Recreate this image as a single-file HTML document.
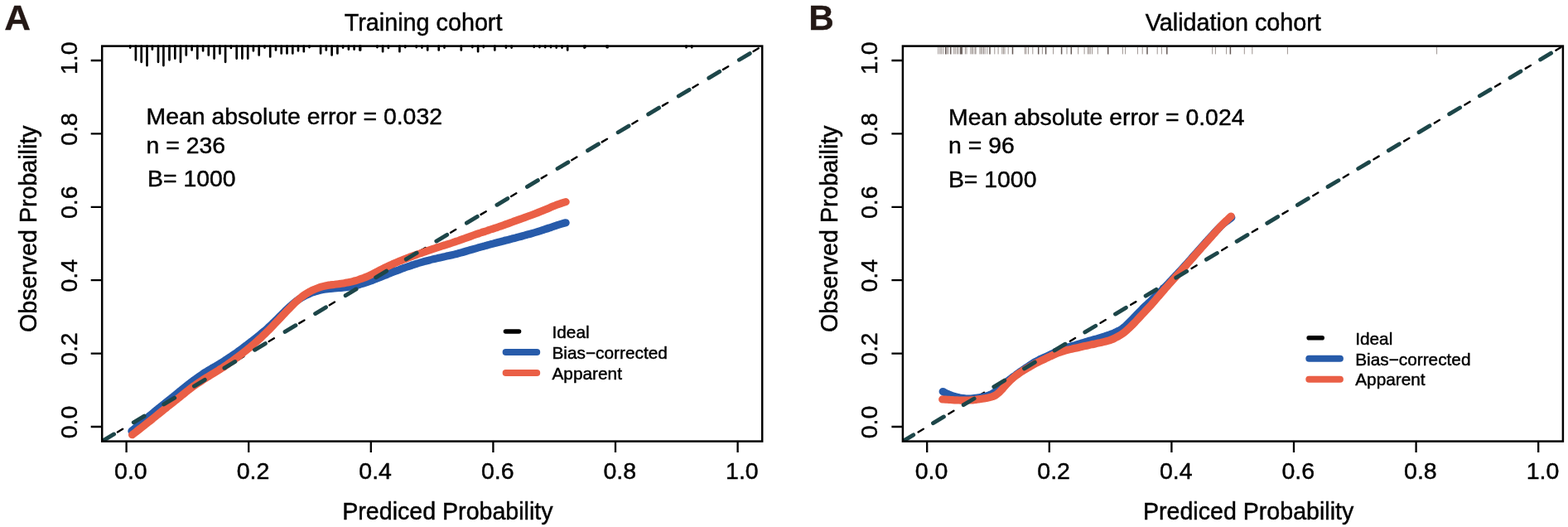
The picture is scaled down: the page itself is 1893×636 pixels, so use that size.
<!DOCTYPE html><html><head><meta charset="utf-8"><title>Calibration curves</title><style>html,body{margin:0;padding:0;background:#fff;overflow:hidden}svg{display:block}text{font-family:"Liberation Sans", Arial, sans-serif;fill:#000;stroke:#000;stroke-width:0.45px}</style></head><body>
<svg width="1893" height="636" viewBox="0 0 1893 636">
<rect width="1893" height="636" fill="#fff"/>
<g>
<clipPath id="cA"><rect x="123.2" y="55.6" width="797.0" height="477.0"/></clipPath>
<line x1="123.2" y1="532.6" x2="920.2" y2="55.6" stroke="#000" stroke-width="2.4" stroke-linecap="round" stroke-dasharray="7.2 35.40" stroke-dashoffset="-21.8" clip-path="url(#cA)"/>
<path d="M158.9,520.3 C159.7,519.6 162.2,517.4 163.9,516.0 C165.6,514.6 167.2,513.1 168.9,511.7 C170.5,510.3 172.2,508.8 173.9,507.4 C175.5,506.0 177.2,504.6 178.9,503.2 C180.5,501.8 182.2,500.4 183.9,499.1 C185.5,497.7 187.2,496.3 188.9,495.0 C190.5,493.6 192.2,492.3 193.8,491.0 C195.5,489.7 197.2,488.3 198.8,487.0 C200.5,485.7 202.2,484.4 203.8,483.0 C205.5,481.7 207.2,480.3 208.8,479.0 C210.5,477.6 212.2,476.3 213.8,474.9 C215.5,473.6 217.1,472.2 218.8,470.9 C220.5,469.5 222.1,468.2 223.8,466.8 C225.5,465.5 227.1,464.2 228.8,462.9 C230.5,461.6 232.1,460.3 233.8,459.1 C235.4,457.8 237.1,456.6 238.8,455.4 C240.4,454.2 242.1,453.1 243.8,452.0 C245.4,450.9 247.1,449.8 248.8,448.8 C250.4,447.8 252.1,446.8 253.8,445.8 C255.4,444.8 257.1,443.8 258.7,442.8 C260.4,441.8 262.1,440.9 263.7,439.9 C265.4,438.8 267.1,437.8 268.7,436.8 C270.4,435.7 272.1,434.7 273.7,433.6 C275.4,432.5 277.1,431.4 278.7,430.3 C280.4,429.2 282.0,428.0 283.7,426.9 C285.4,425.7 287.0,424.5 288.7,423.3 C290.4,422.1 292.0,420.9 293.7,419.6 C295.4,418.4 297.0,417.1 298.7,415.8 C300.4,414.6 302.0,413.3 303.7,412.0 C305.3,410.7 307.0,409.4 308.7,408.1 C310.3,406.7 312.0,405.4 313.7,404.1 C315.3,402.7 317.0,401.3 318.7,399.9 C320.3,398.5 322.0,397.0 323.6,395.5 C325.3,394.0 327.0,392.5 328.6,390.9 C330.3,389.3 332.0,387.7 333.6,386.0 C335.3,384.4 337.0,382.7 338.6,381.0 C340.3,379.3 342.0,377.6 343.6,376.0 C345.3,374.4 346.9,372.7 348.6,371.2 C350.3,369.6 351.9,368.1 353.6,366.7 C355.3,365.3 356.9,364.0 358.6,362.8 C360.3,361.5 361.9,360.5 363.6,359.5 C365.3,358.4 366.9,357.6 368.6,356.7 C370.2,355.9 371.9,355.1 373.6,354.4 C375.2,353.7 376.9,353.1 378.6,352.5 C380.2,352.0 381.9,351.5 383.6,351.0 C385.2,350.6 386.9,350.2 388.5,349.8 C390.2,349.5 391.9,349.2 393.5,349.0 C395.2,348.7 396.9,348.5 398.5,348.4 C400.2,348.2 401.9,348.0 403.5,347.9 C405.2,347.8 406.9,347.7 408.5,347.5 C410.2,347.4 411.8,347.3 413.5,347.1 C415.2,347.0 416.8,346.8 418.5,346.6 C420.2,346.4 421.8,346.1 423.5,345.9 C425.2,345.6 426.8,345.2 428.5,344.9 C430.2,344.5 431.8,344.1 433.5,343.6 C435.1,343.2 436.8,342.7 438.5,342.2 C440.1,341.7 441.8,341.1 443.5,340.5 C445.1,339.9 446.8,339.3 448.5,338.7 C450.1,338.0 451.8,337.4 453.5,336.7 C455.1,336.1 456.8,335.4 458.4,334.7 C460.1,334.0 461.8,333.4 463.4,332.7 C465.1,332.1 466.8,331.4 468.4,330.7 C470.1,330.1 471.8,329.4 473.4,328.8 C475.1,328.1 476.7,327.5 478.4,326.8 C480.1,326.2 481.7,325.6 483.4,324.9 C485.1,324.3 486.7,323.7 488.4,323.1 C490.1,322.6 491.7,322.0 493.4,321.4 C495.1,320.8 496.7,320.3 498.4,319.7 C500.0,319.2 501.7,318.7 503.4,318.1 C505.0,317.6 506.7,317.1 508.4,316.6 C510.0,316.2 511.7,315.7 513.4,315.2 C515.0,314.8 516.7,314.4 518.4,314.0 C520.0,313.5 521.7,313.1 523.3,312.7 C525.0,312.3 526.7,312.0 528.3,311.6 C530.0,311.2 531.7,310.8 533.3,310.5 C535.0,310.1 536.7,309.8 538.3,309.4 C540.0,309.0 541.6,308.7 543.3,308.3 C545.0,307.9 546.6,307.5 548.3,307.1 C550.0,306.7 551.6,306.3 553.3,305.8 C555.0,305.4 556.6,304.9 558.3,304.5 C560.0,304.0 561.6,303.5 563.3,303.0 C564.9,302.5 566.6,302.0 568.3,301.5 C569.9,301.1 571.6,300.6 573.3,300.1 C574.9,299.6 576.6,299.2 578.3,298.7 C579.9,298.2 581.6,297.8 583.3,297.3 C584.9,296.9 586.6,296.4 588.2,296.0 C589.9,295.5 591.6,295.1 593.2,294.6 C594.9,294.2 596.6,293.7 598.2,293.3 C599.9,292.9 601.6,292.4 603.2,292.0 C604.9,291.6 606.6,291.1 608.2,290.7 C609.9,290.3 611.5,289.8 613.2,289.4 C614.9,289.0 616.5,288.6 618.2,288.1 C619.9,287.7 621.5,287.3 623.2,286.8 C624.9,286.4 626.5,285.9 628.2,285.5 C629.8,285.0 631.5,284.6 633.2,284.1 C634.8,283.7 636.5,283.2 638.2,282.7 C639.8,282.3 641.5,281.8 643.2,281.3 C644.8,280.8 646.5,280.3 648.2,279.8 C649.8,279.3 651.5,278.8 653.1,278.3 C654.8,277.8 656.5,277.2 658.1,276.7 C659.8,276.1 661.5,275.5 663.1,275.0 C664.8,274.4 666.5,273.9 668.1,273.3 C669.8,272.8 671.5,272.2 673.1,271.7 C674.8,271.2 676.4,270.7 678.1,270.2 C679.8,269.7 682.3,269.0 683.1,268.8" fill="none" stroke="#275baa" stroke-width="9.2" stroke-linecap="round" stroke-linejoin="round"/>
<path d="M159.6,524.7 C160.4,524.1 162.9,522.1 164.6,520.9 C166.2,519.6 167.9,518.3 169.6,517.0 C171.2,515.7 172.9,514.4 174.6,513.1 C176.2,511.8 177.9,510.5 179.5,509.2 C181.2,507.9 182.9,506.5 184.5,505.2 C186.2,503.8 187.9,502.5 189.5,501.1 C191.2,499.8 192.8,498.5 194.5,497.1 C196.2,495.8 197.8,494.5 199.5,493.2 C201.1,491.9 202.8,490.5 204.5,489.2 C206.1,487.9 207.8,486.6 209.5,485.2 C211.1,483.9 212.8,482.6 214.4,481.2 C216.1,479.9 217.8,478.5 219.4,477.2 C221.1,475.9 222.8,474.5 224.4,473.2 C226.1,471.9 227.7,470.6 229.4,469.3 C231.1,468.1 232.7,466.8 234.4,465.6 C236.0,464.4 237.7,463.2 239.4,462.1 C241.0,461.0 242.7,459.9 244.4,458.8 C246.0,457.7 247.7,456.7 249.3,455.6 C251.0,454.6 252.7,453.6 254.3,452.6 C256.0,451.6 257.7,450.6 259.3,449.6 C261.0,448.6 262.6,447.6 264.3,446.5 C266.0,445.5 267.6,444.4 269.3,443.4 C270.9,442.3 272.6,441.1 274.3,440.0 C275.9,438.8 277.6,437.7 279.3,436.5 C280.9,435.3 282.6,434.1 284.2,432.8 C285.9,431.6 287.6,430.4 289.2,429.1 C290.9,427.8 292.6,426.5 294.2,425.2 C295.9,423.9 297.5,422.6 299.2,421.2 C300.9,419.9 302.5,418.5 304.2,417.1 C305.8,415.7 307.5,414.2 309.2,412.8 C310.8,411.3 312.5,409.8 314.2,408.3 C315.8,406.8 317.5,405.2 319.1,403.6 C320.8,402.0 322.5,400.4 324.1,398.7 C325.8,397.0 327.5,395.3 329.1,393.6 C330.8,391.8 332.4,390.1 334.1,388.3 C335.8,386.6 337.4,384.8 339.1,383.0 C340.7,381.3 342.4,379.5 344.1,377.8 C345.7,376.0 347.4,374.3 349.1,372.6 C350.7,370.8 352.4,369.1 354.0,367.5 C355.7,365.8 357.4,364.2 359.0,362.7 C360.7,361.3 362.4,359.8 364.0,358.5 C365.7,357.2 367.3,356.0 369.0,354.9 C370.7,353.8 372.3,352.8 374.0,351.9 C375.6,351.0 377.3,350.2 379.0,349.5 C380.6,348.7 382.3,348.1 384.0,347.5 C385.6,346.9 387.3,346.4 388.9,345.9 C390.6,345.5 392.3,345.1 393.9,344.7 C395.6,344.4 397.3,344.1 398.9,343.9 C400.6,343.6 402.2,343.4 403.9,343.3 C405.6,343.1 407.2,342.9 408.9,342.7 C410.5,342.5 412.2,342.3 413.9,342.0 C415.5,341.7 417.2,341.5 418.9,341.1 C420.5,340.8 422.2,340.5 423.8,340.1 C425.5,339.7 427.2,339.2 428.8,338.8 C430.5,338.3 432.2,337.8 433.8,337.2 C435.5,336.7 437.1,336.1 438.8,335.5 C440.5,334.9 442.1,334.2 443.8,333.5 C445.4,332.7 447.1,331.9 448.8,331.1 C450.4,330.3 452.1,329.5 453.8,328.6 C455.4,327.8 457.1,326.9 458.7,326.0 C460.4,325.2 462.1,324.3 463.7,323.5 C465.4,322.7 467.1,321.9 468.7,321.1 C470.4,320.3 472.0,319.6 473.7,318.8 C475.4,318.1 477.0,317.4 478.7,316.7 C480.3,316.0 482.0,315.3 483.7,314.7 C485.3,314.0 487.0,313.3 488.7,312.7 C490.3,312.0 492.0,311.4 493.6,310.8 C495.3,310.1 497.0,309.5 498.6,308.9 C500.3,308.3 502.0,307.7 503.6,307.1 C505.3,306.6 506.9,306.0 508.6,305.4 C510.3,304.8 511.9,304.2 513.6,303.6 C515.2,303.0 516.9,302.5 518.6,301.9 C520.2,301.3 521.9,300.7 523.6,300.1 C525.2,299.6 526.9,299.0 528.5,298.5 C530.2,298.0 531.9,297.4 533.5,296.9 C535.2,296.4 536.9,295.9 538.5,295.4 C540.2,294.8 541.8,294.3 543.5,293.8 C545.2,293.3 546.8,292.7 548.5,292.2 C550.1,291.6 551.8,291.1 553.5,290.5 C555.1,289.9 556.8,289.3 558.5,288.7 C560.1,288.1 561.8,287.5 563.4,286.9 C565.1,286.3 566.8,285.7 568.4,285.1 C570.1,284.5 571.8,283.9 573.4,283.3 C575.1,282.7 576.7,282.2 578.4,281.6 C580.1,281.0 581.7,280.5 583.4,279.9 C585.0,279.4 586.7,278.8 588.4,278.3 C590.0,277.8 591.7,277.2 593.4,276.7 C595.0,276.1 596.7,275.6 598.3,275.0 C600.0,274.4 601.7,273.9 603.3,273.3 C605.0,272.7 606.7,272.1 608.3,271.6 C610.0,271.0 611.6,270.4 613.3,269.8 C615.0,269.2 616.6,268.6 618.3,268.0 C619.9,267.4 621.6,266.8 623.3,266.2 C624.9,265.6 626.6,265.0 628.3,264.4 C629.9,263.8 631.6,263.2 633.2,262.6 C634.9,262.0 636.6,261.4 638.2,260.8 C639.9,260.2 641.6,259.6 643.2,259.0 C644.9,258.4 646.5,257.8 648.2,257.1 C649.9,256.5 651.5,255.8 653.2,255.1 C654.8,254.4 656.5,253.7 658.2,253.0 C659.8,252.3 661.5,251.6 663.2,250.9 C664.8,250.2 666.5,249.5 668.1,248.8 C669.8,248.1 671.5,247.5 673.1,246.8 C674.8,246.2 676.5,245.7 678.1,245.1 C679.8,244.6 682.3,243.8 683.1,243.6" fill="none" stroke="#ea5f46" stroke-width="9.2" stroke-linecap="round" stroke-linejoin="round"/>
<line x1="123.2" y1="532.6" x2="920.2" y2="55.6" stroke="#1d4649" stroke-width="4.9" stroke-linecap="round" stroke-dasharray="15 27.60" stroke-dashoffset="-1.8" clip-path="url(#cA)"/>
<path d="M157.2,55.6v2.0 M163.9,55.6v16.7 M170.7,55.6v19.2 M177.5,55.6v23.5 M183.9,55.6v4.0 M191.0,55.6v19.2 M197.4,55.6v23.5 M204.5,55.6v16.7 M211.3,55.6v15.0 M218.0,55.6v19.2 M224.8,55.6v10.8 M231.6,55.6v4.9 M238.3,55.6v15.0 M245.1,55.6v5.7 M251.8,55.6v10.8 M258.6,55.6v15.0 M265.4,55.6v9.1 M272.1,55.6v19.2 M278.9,55.6v2.3 M285.7,55.6v15.0 M292.4,55.6v15.0 M299.2,55.6v15.0 M305.9,55.6v5.7 M312.7,55.6v10.8 M319.5,55.6v2.0 M326.2,55.6v12.8 M333.0,55.6v4.9 M339.7,55.6v8.8 M346.5,55.6v8.8 M353.3,55.6v8.8 M360.0,55.6v5.7 M366.8,55.6v6.6 M373.5,55.6v1.5 M387.1,55.6v8.8 M393.8,55.6v4.9 M400.6,55.6v10.8 M407.4,55.6v8.8 M414.1,55.6v2.0 M420.9,55.6v4.0 M427.6,55.6v4.0 M434.4,55.6v4.9 M435.1,55.6v4.9 M455.4,55.6v1.5 M462.1,55.6v6.6 M468.9,55.6v2.3 M482.4,55.6v6.6 M489.2,55.6v1.5 M502.7,55.6v1.5 M509.4,55.6v2.0 M516.2,55.6v4.9 M529.7,55.6v4.9 M536.5,55.6v2.0 M556.8,55.6v4.9 M570.3,55.6v1.5 M577.1,55.6v6.6 M583.8,55.6v1.5 M597.3,55.6v4.9 M610.9,55.6v2.0 M617.6,55.6v2.0 M644.7,55.6v1.2 M651.4,55.6v1.5 M658.2,55.6v1.5 M665.0,55.6v1.5 M671.7,55.6v2.0 M678.5,55.6v2.0 M685.2,55.6v4.9 M705.5,55.6v2.0 M732.6,55.6v1.5 M706.3,55.6v1.6 M733.5,55.6v1.6 M828.5,55.6v1.6 M835.2,55.6v1.6" stroke="#000" stroke-width="2.7" fill="none" stroke-linecap="round"/>
<rect x="123.2" y="55.6" width="797.0" height="477.0" fill="none" stroke="#000" stroke-width="2.5"/>
<path d="M152.6,532.6V546.1 M123.2,515.0H109.7 M300.2,532.6V546.1 M123.2,426.6H109.7 M447.8,532.6V546.1 M123.2,338.2H109.7 M595.4,532.6V546.1 M123.2,249.8H109.7 M743.0,532.6V546.1 M123.2,161.4H109.7 M890.6,532.6V546.1 M123.2,73.0H109.7" stroke="#000" stroke-width="2.3" fill="none"/>
<text x="157.9" y="577.8" text-anchor="middle" font-size="28.5">0.0</text>
<text transform="translate(92.7,509.5) rotate(-90)" text-anchor="middle" font-size="28.5">0.0</text>
<text x="305.5" y="577.8" text-anchor="middle" font-size="28.5">0.2</text>
<text transform="translate(92.7,421.1) rotate(-90)" text-anchor="middle" font-size="28.5">0.2</text>
<text x="453.1" y="577.8" text-anchor="middle" font-size="28.5">0.4</text>
<text transform="translate(92.7,332.7) rotate(-90)" text-anchor="middle" font-size="28.5">0.4</text>
<text x="600.7" y="577.8" text-anchor="middle" font-size="28.5">0.6</text>
<text transform="translate(92.7,244.3) rotate(-90)" text-anchor="middle" font-size="28.5">0.6</text>
<text x="748.3" y="577.8" text-anchor="middle" font-size="28.5">0.8</text>
<text transform="translate(92.7,155.9) rotate(-90)" text-anchor="middle" font-size="28.5">0.8</text>
<text x="895.9" y="577.8" text-anchor="middle" font-size="28.5">1.0</text>
<text transform="translate(92.7,70.2) rotate(-90)" text-anchor="middle" font-size="28.5">1.0</text>
<text x="511.1" y="36.8" text-anchor="middle" font-size="28.75">Training cohort</text>
<text x="540.4" y="626.5" text-anchor="middle" font-size="28.6">Prediced Probability</text>
<text transform="translate(44.3,276.2) rotate(-90)" text-anchor="middle" font-size="28.6">Observed Probaility</text>
<text transform="translate(5.2,35.9) scale(1.04,1)" x="0" y="0" font-size="42.3" font-weight="bold" style="fill:#231815;stroke:#231815;stroke-width:0.3px">A</text>
<text x="176.5" y="150.4" font-size="28.4">Mean absolute error = 0.032</text>
<text x="176.5" y="184.5" font-size="28.4">n = 236</text>
<text x="178.1" y="225" font-size="28.4">B= 1000</text>
<line x1="610.5" y1="400.0" x2="626.5" y2="400.0" stroke="#000" stroke-width="5.6" stroke-linecap="round"/>
<line x1="610.6" y1="425.0" x2="648.2" y2="425.0" stroke="#275baa" stroke-width="8" stroke-linecap="round"/>
<line x1="610.6" y1="450.0" x2="648.2" y2="450.0" stroke="#ea5f46" stroke-width="8" stroke-linecap="round"/>
<text x="666.5" y="407.8" font-size="20.8">Ideal</text>
<text x="666.5" y="433.1" font-size="20.8">Bias−corrected</text>
<text x="666.5" y="457.6" font-size="20.8">Apparent</text>
</g>
<g>
<clipPath id="cB"><rect x="1089.9" y="55.6" width="797.0" height="477.0"/></clipPath>
<line x1="1089.9" y1="532.6" x2="1886.9" y2="55.6" stroke="#000" stroke-width="2.4" stroke-linecap="round" stroke-dasharray="7.2 35.52" stroke-dashoffset="-21.8" clip-path="url(#cB)"/>
<path d="M1138.2,472.6 C1138.9,472.9 1140.9,474.0 1142.2,474.6 C1143.5,475.2 1144.9,475.8 1146.2,476.4 C1147.5,476.9 1148.9,477.4 1150.2,477.8 C1151.6,478.3 1152.9,478.7 1154.2,479.0 C1155.6,479.4 1156.9,479.7 1158.2,479.9 C1159.6,480.2 1160.9,480.4 1162.2,480.6 C1163.6,480.8 1164.9,481.0 1166.2,481.1 C1167.6,481.2 1168.9,481.2 1170.3,481.1 C1171.6,481.1 1172.9,481.0 1174.3,480.8 C1175.6,480.7 1176.9,480.5 1178.3,480.3 C1179.6,480.2 1180.9,480.0 1182.3,479.7 C1183.6,479.5 1184.9,479.3 1186.3,479.0 C1187.6,478.7 1189.0,478.5 1190.3,478.1 C1191.6,477.7 1193.0,477.3 1194.3,476.8 C1195.6,476.2 1197.0,475.6 1198.3,474.8 C1199.6,474.0 1201.0,473.1 1202.3,472.1 C1203.6,471.0 1205.0,469.9 1206.3,468.7 C1207.7,467.6 1209.0,466.4 1210.3,465.2 C1211.7,464.1 1213.0,462.9 1214.3,461.8 C1215.7,460.7 1217.0,459.6 1218.3,458.5 C1219.7,457.5 1221.0,456.4 1222.3,455.4 C1223.7,454.4 1225.0,453.4 1226.4,452.5 C1227.7,451.5 1229.0,450.5 1230.4,449.6 C1231.7,448.7 1233.0,447.7 1234.4,446.8 C1235.7,445.9 1237.0,445.0 1238.4,444.0 C1239.7,443.1 1241.0,442.2 1242.4,441.4 C1243.7,440.5 1245.1,439.6 1246.4,438.7 C1247.7,437.9 1249.1,437.0 1250.4,436.3 C1251.7,435.6 1253.1,434.9 1254.4,434.2 C1255.7,433.6 1257.1,433.0 1258.4,432.4 C1259.7,431.8 1261.1,431.2 1262.4,430.6 C1263.7,430.0 1265.1,429.4 1266.4,428.7 C1267.8,428.1 1269.1,427.4 1270.4,426.7 C1271.8,426.1 1273.1,425.4 1274.4,424.8 C1275.8,424.2 1277.1,423.6 1278.4,423.0 C1279.8,422.5 1281.1,421.9 1282.4,421.4 C1283.8,420.9 1285.1,420.4 1286.5,419.9 C1287.8,419.5 1289.1,419.0 1290.5,418.6 C1291.8,418.2 1293.1,417.9 1294.5,417.5 C1295.8,417.1 1297.1,416.7 1298.5,416.4 C1299.8,416.0 1301.1,415.6 1302.5,415.2 C1303.8,414.8 1305.2,414.3 1306.5,413.9 C1307.8,413.5 1309.2,413.1 1310.5,412.7 C1311.8,412.3 1313.2,411.9 1314.5,411.5 C1315.8,411.1 1317.2,410.8 1318.5,410.4 C1319.8,410.0 1321.2,409.6 1322.5,409.3 C1323.9,408.9 1325.2,408.5 1326.5,408.1 C1327.9,407.7 1329.2,407.3 1330.5,406.9 C1331.9,406.5 1333.2,406.1 1334.5,405.7 C1335.9,405.2 1337.2,404.8 1338.5,404.3 C1339.9,403.9 1341.2,403.4 1342.6,402.8 C1343.9,402.3 1345.2,401.7 1346.6,401.1 C1347.9,400.5 1349.2,399.9 1350.6,399.2 C1351.9,398.5 1353.2,397.8 1354.6,396.9 C1355.9,395.9 1357.2,394.8 1358.6,393.7 C1359.9,392.5 1361.3,391.1 1362.6,389.8 C1363.9,388.5 1365.3,387.1 1366.6,385.8 C1367.9,384.4 1369.3,383.0 1370.6,381.6 C1371.9,380.2 1373.3,378.8 1374.6,377.5 C1375.9,376.1 1377.3,374.7 1378.6,373.4 C1379.9,372.0 1381.3,370.7 1382.6,369.5 C1384.0,368.2 1385.3,367.0 1386.6,365.7 C1388.0,364.5 1389.3,363.2 1390.6,361.9 C1392.0,360.7 1393.3,359.4 1394.6,358.1 C1396.0,356.8 1397.3,355.5 1398.6,354.2 C1400.0,352.9 1401.3,351.6 1402.7,350.2 C1404.0,348.9 1405.3,347.5 1406.7,346.1 C1408.0,344.7 1409.3,343.3 1410.7,341.9 C1412.0,340.5 1413.3,339.1 1414.7,337.7 C1416.0,336.3 1417.3,334.9 1418.7,333.4 C1420.0,332.0 1421.4,330.6 1422.7,329.1 C1424.0,327.7 1425.4,326.3 1426.7,324.8 C1428.0,323.4 1429.4,321.9 1430.7,320.5 C1432.0,319.0 1433.4,317.5 1434.7,316.0 C1436.0,314.5 1437.4,313.0 1438.7,311.5 C1440.1,310.0 1441.4,308.4 1442.7,306.9 C1444.1,305.4 1445.4,303.9 1446.7,302.4 C1448.1,300.9 1449.4,299.4 1450.7,297.9 C1452.1,296.4 1453.4,294.9 1454.7,293.4 C1456.1,292.0 1457.4,290.5 1458.8,289.0 C1460.1,287.5 1461.4,286.1 1462.8,284.6 C1464.1,283.2 1465.4,281.7 1466.8,280.3 C1468.1,278.9 1469.4,277.4 1470.8,276.0 C1472.1,274.7 1473.4,273.3 1474.8,272.0 C1476.1,270.8 1477.5,269.6 1478.8,268.5 C1480.1,267.5 1481.5,266.5 1482.8,265.5 C1484.1,264.5 1486.1,263.1 1486.8,262.6" fill="none" stroke="#275baa" stroke-width="9.2" stroke-linecap="round" stroke-linejoin="round"/>
<path d="M1137.7,481.9 C1138.4,481.9 1140.4,482.1 1141.7,482.1 C1143.0,482.2 1144.4,482.3 1145.7,482.4 C1147.0,482.5 1148.4,482.5 1149.7,482.6 C1151.1,482.7 1152.4,482.8 1153.7,482.8 C1155.1,482.9 1156.4,482.9 1157.7,483.0 C1159.1,483.0 1160.4,483.1 1161.7,483.1 C1163.1,483.1 1164.4,483.1 1165.7,483.1 C1167.1,483.1 1168.4,483.0 1169.7,483.0 C1171.1,482.9 1172.4,482.9 1173.8,482.8 C1175.1,482.7 1176.4,482.5 1177.8,482.4 C1179.1,482.2 1180.4,482.0 1181.8,481.8 C1183.1,481.7 1184.4,481.4 1185.8,481.2 C1187.1,481.0 1188.4,480.8 1189.8,480.6 C1191.1,480.3 1192.4,480.1 1193.8,479.8 C1195.1,479.5 1196.5,479.3 1197.8,478.8 C1199.1,478.3 1200.5,477.8 1201.8,477.0 C1203.1,476.2 1204.5,475.1 1205.8,473.9 C1207.1,472.8 1208.5,471.3 1209.8,469.9 C1211.1,468.4 1212.5,466.8 1213.8,465.3 C1215.1,463.8 1216.5,462.3 1217.8,461.0 C1219.2,459.6 1220.5,458.3 1221.8,457.2 C1223.2,456.0 1224.5,454.8 1225.8,453.8 C1227.2,452.8 1228.5,451.8 1229.8,450.9 C1231.2,450.0 1232.5,449.2 1233.8,448.3 C1235.2,447.5 1236.5,446.6 1237.8,445.8 C1239.2,445.0 1240.5,444.2 1241.8,443.4 C1243.2,442.6 1244.5,441.8 1245.9,441.1 C1247.2,440.3 1248.5,439.6 1249.9,438.8 C1251.2,438.1 1252.5,437.4 1253.9,436.8 C1255.2,436.1 1256.5,435.4 1257.9,434.8 C1259.2,434.2 1260.5,433.5 1261.9,432.9 C1263.2,432.3 1264.5,431.6 1265.9,431.0 C1267.2,430.4 1268.6,429.8 1269.9,429.2 C1271.2,428.6 1272.6,428.0 1273.9,427.4 C1275.2,426.9 1276.6,426.3 1277.9,425.8 C1279.2,425.3 1280.6,424.9 1281.9,424.4 C1283.2,424.0 1284.6,423.6 1285.9,423.2 C1287.2,422.8 1288.6,422.4 1289.9,422.1 C1291.3,421.7 1292.6,421.4 1293.9,421.2 C1295.3,420.9 1296.6,420.6 1297.9,420.3 C1299.3,420.0 1300.6,419.7 1301.9,419.4 C1303.3,419.1 1304.6,418.8 1305.9,418.5 C1307.3,418.2 1308.6,417.9 1309.9,417.6 C1311.3,417.3 1312.6,417.0 1314.0,416.7 C1315.3,416.4 1316.6,416.1 1318.0,415.8 C1319.3,415.5 1320.6,415.3 1322.0,415.0 C1323.3,414.7 1324.6,414.4 1326.0,414.1 C1327.3,413.8 1328.6,413.5 1330.0,413.2 C1331.3,412.9 1332.6,412.6 1334.0,412.3 C1335.3,412.0 1336.7,411.6 1338.0,411.2 C1339.3,410.8 1340.7,410.4 1342.0,409.8 C1343.3,409.3 1344.7,408.6 1346.0,408.0 C1347.3,407.3 1348.7,406.6 1350.0,405.9 C1351.3,405.2 1352.7,404.4 1354.0,403.5 C1355.3,402.6 1356.7,401.6 1358.0,400.6 C1359.4,399.5 1360.7,398.3 1362.0,397.0 C1363.4,395.8 1364.7,394.5 1366.0,393.2 C1367.4,391.9 1368.7,390.5 1370.0,389.2 C1371.4,387.8 1372.7,386.3 1374.0,384.9 C1375.4,383.4 1376.7,382.0 1378.0,380.5 C1379.4,379.1 1380.7,377.6 1382.1,376.2 C1383.4,374.8 1384.7,373.4 1386.1,371.9 C1387.4,370.5 1388.7,369.1 1390.1,367.6 C1391.4,366.1 1392.7,364.6 1394.1,363.0 C1395.4,361.5 1396.7,359.9 1398.1,358.3 C1399.4,356.8 1400.7,355.2 1402.1,353.6 C1403.4,352.1 1404.7,350.5 1406.1,349.0 C1407.4,347.5 1408.8,346.0 1410.1,344.5 C1411.4,343.0 1412.8,341.5 1414.1,340.0 C1415.4,338.5 1416.8,337.0 1418.1,335.6 C1419.4,334.1 1420.8,332.6 1422.1,331.1 C1423.4,329.7 1424.8,328.2 1426.1,326.7 C1427.4,325.2 1428.8,323.8 1430.1,322.3 C1431.5,320.8 1432.8,319.3 1434.1,317.7 C1435.5,316.2 1436.8,314.7 1438.1,313.1 C1439.5,311.6 1440.8,310.1 1442.1,308.5 C1443.5,307.0 1444.8,305.5 1446.1,304.0 C1447.5,302.4 1448.8,300.9 1450.1,299.4 C1451.5,297.9 1452.8,296.4 1454.2,294.9 C1455.5,293.4 1456.8,291.9 1458.2,290.4 C1459.5,288.9 1460.8,287.3 1462.2,285.9 C1463.5,284.4 1464.8,282.9 1466.2,281.4 C1467.5,279.9 1468.8,278.4 1470.2,276.9 C1471.5,275.5 1472.8,274.0 1474.2,272.6 C1475.5,271.2 1476.9,269.8 1478.2,268.5 C1479.5,267.2 1480.9,266.0 1482.2,264.8 C1483.5,263.5 1485.5,261.7 1486.2,261.1" fill="none" stroke="#ea5f46" stroke-width="9.2" stroke-linecap="round" stroke-linejoin="round"/>
<line x1="1089.9" y1="532.6" x2="1886.9" y2="55.6" stroke="#1d4649" stroke-width="4.9" stroke-linecap="round" stroke-dasharray="15 27.72" stroke-dashoffset="0.0" clip-path="url(#cB)"/>
<path d="M1132.7,57V65.4 M1134.8,57V65.4 M1136.4,57V65.4 M1138.5,57V65.4 M1143.2,57V65.4 M1144.8,57V65.4 M1151.7,57V65.4 M1153.3,57V65.4 M1155.4,57V65.4 M1157.0,57V65.4 M1165.4,57V65.4 M1167.0,57V65.4 M1171.8,57V65.4 M1173.4,57V65.4 M1174.9,57V65.4 M1177.1,57V65.4 M1178.1,57V65.4 M1182.9,57V65.4 M1184.4,57V65.4 M1186.0,57V65.4 M1187.6,57V65.4 M1189.2,57V65.4 M1191.8,57V65.4 M1200.8,57V65.4 M1205.1,57V65.4 M1209.8,57V65.4 M1211.4,57V65.4 M1213.0,57V65.4 M1217.2,57V65.4 M1237.3,57V65.4 M1238.9,57V65.4 M1241.5,57V65.4 M1246.8,57V65.4 M1258.4,57V65.4 M1271.6,57V65.4 M1288.0,57V65.4 M1301.7,57V65.4 M1309.1,57V65.4 M1313.2,57V65.4 M1314.8,57V65.4 M1316.3,57V65.4 M1318.5,57V65.4 M1325.3,57V65.4 M1355.4,57V65.4 M1358.6,57V65.4 M1373.4,57V65.4 M1379.2,57V65.4 M1397.2,57V65.4 M1402.4,57V65.4 M1463.7,57V65.4 M1467.4,57V65.4 M1480.6,57V65.4 M1502.3,57V65.4 M1511.8,57V65.4 M1554.4,57V65.4 M1734.6,57V65.4" stroke="#5b4c48" stroke-opacity="0.6" stroke-width="1" fill="none"/><path d="M1141.7,57V65.4 M1147.7,57V65.4 M1159.6,57V65.4 M1161.2,57V65.4 M1195.0,57V65.4 M1222.5,57V65.4 M1253.7,57V65.4 M1262.6,57V65.4 M1281.6,57V65.4 M1293.3,57V65.4 M1337.7,57V65.4 M1385.0,57V65.4 M1408.8,57V65.4 M1485.4,57V65.4" stroke="#4a3d3a" stroke-opacity="0.85" stroke-width="1.5" fill="none"/>
<rect x="1089.9" y="55.6" width="797.0" height="477.0" fill="none" stroke="#000" stroke-width="2.5"/>
<path d="M1119.2,532.6V546.1 M1089.9,515.0H1076.4 M1266.8,532.6V546.1 M1089.9,426.6H1076.4 M1414.4,532.6V546.1 M1089.9,338.2H1076.4 M1562.0,532.6V546.1 M1089.9,249.8H1076.4 M1709.6,532.6V546.1 M1089.9,161.4H1076.4 M1857.2,532.6V546.1 M1089.9,73.0H1076.4" stroke="#000" stroke-width="2.3" fill="none"/>
<text x="1124.5" y="577.8" text-anchor="middle" font-size="28.5">0.0</text>
<text transform="translate(1059.4,509.5) rotate(-90)" text-anchor="middle" font-size="28.5">0.0</text>
<text x="1272.1" y="577.8" text-anchor="middle" font-size="28.5">0.2</text>
<text transform="translate(1059.4,421.1) rotate(-90)" text-anchor="middle" font-size="28.5">0.2</text>
<text x="1419.7" y="577.8" text-anchor="middle" font-size="28.5">0.4</text>
<text transform="translate(1059.4,332.7) rotate(-90)" text-anchor="middle" font-size="28.5">0.4</text>
<text x="1567.3" y="577.8" text-anchor="middle" font-size="28.5">0.6</text>
<text transform="translate(1059.4,244.3) rotate(-90)" text-anchor="middle" font-size="28.5">0.6</text>
<text x="1714.9" y="577.8" text-anchor="middle" font-size="28.5">0.8</text>
<text transform="translate(1059.4,155.9) rotate(-90)" text-anchor="middle" font-size="28.5">0.8</text>
<text x="1862.5" y="577.8" text-anchor="middle" font-size="28.5">1.0</text>
<text transform="translate(1059.4,70.2) rotate(-90)" text-anchor="middle" font-size="28.5">1.0</text>
<text x="1488.8" y="36.8" text-anchor="middle" font-size="28.75">Validation cohort</text>
<text x="1507.1" y="626.5" text-anchor="middle" font-size="28.6">Prediced Probability</text>
<text transform="translate(1011.0,276.2) rotate(-90)" text-anchor="middle" font-size="28.6">Observed Probaility</text>
<text transform="translate(976.3,35.9) scale(1.0,1)" x="0" y="0" font-size="42.3" font-weight="bold" style="fill:#231815;stroke:#231815;stroke-width:0.3px">B</text>
<text x="1145" y="150.6" font-size="28.4">Mean absolute error = 0.024</text>
<text x="1145" y="184.5" font-size="28.4">n = 96</text>
<text x="1144.9" y="225.6" font-size="28.4">B= 1000</text>
<line x1="1580.2" y1="407.7" x2="1596.2" y2="407.7" stroke="#000" stroke-width="5.6" stroke-linecap="round"/>
<line x1="1580.3" y1="432.7" x2="1617.9" y2="432.7" stroke="#275baa" stroke-width="8" stroke-linecap="round"/>
<line x1="1580.3" y1="457.7" x2="1617.9" y2="457.7" stroke="#ea5f46" stroke-width="8" stroke-linecap="round"/>
<text x="1636.2" y="415.5" font-size="20.8">Ideal</text>
<text x="1636.2" y="440.8" font-size="20.8">Bias−corrected</text>
<text x="1636.2" y="465.3" font-size="20.8">Apparent</text>
</g>
</svg></body></html>
